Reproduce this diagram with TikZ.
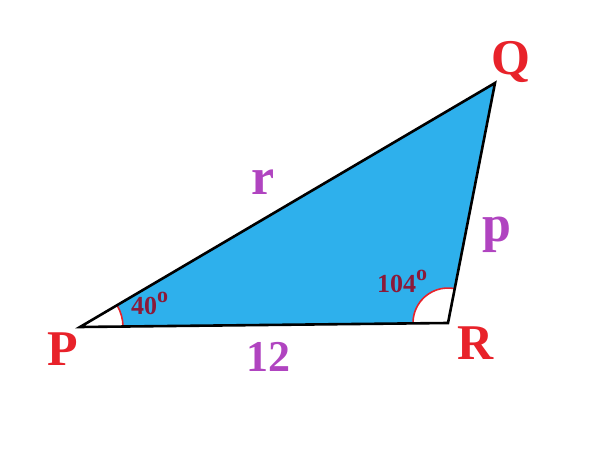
\documentclass[tikz,border=0pt]{standalone}
\usepackage{fontspec}
\setmainfont{Liberation Serif}
\definecolor{skyfill}{HTML}{2EB0EC}
\definecolor{vertred}{HTML}{E8222A}
\definecolor{sidepurple}{HTML}{B044C0}
\definecolor{anglemaroon}{HTML}{8B1A3A}
\newcommand{\dego}{{\fontsize{22}{22}\selectfont\raisebox{12pt}{o}}}

\begin{document}
\begin{tikzpicture}[x=1pt, y=1pt,
  every node/.style={inner sep=0pt, anchor=base west},
  vertex/.style={text=vertred, font=\fontsize{50}{50}\selectfont\bfseries},
  side/.style={text=sidepurple, font=\fontsize{52}{52}\selectfont\bfseries},
  anglelbl/.style={text=anglemaroon, font=\fontsize{26}{26}\selectfont\bfseries}]
  \useasboundingbox (0, 0) rectangle (600, 450);
  \coordinate (p) at (80, 123);
  \coordinate (r) at (448, 127);
  \coordinate (q) at (495, 367);
  \fill [skyfill] (p) -- (r) -- (q) -- cycle;
  \fill [white] (p) -- ++(0.6:43) arc [start angle=0.6, end angle=30.5, radius=43] -- cycle;
  \fill [white] (r) -- ++(78.9:35) arc [start angle=78.9, end angle=180.6, radius=35] -- cycle;
  \draw [vertred, line width=1.6pt] (p) ++(0.6:43) arc [start angle=0.6, end angle=30.5, radius=43];
  \draw [vertred, line width=1.6pt] (r) ++(78.9:35) arc [start angle=78.9, end angle=180.6, radius=35];
  \draw [line width=2.6pt, line join=miter] (p) -- (r) -- (q) -- cycle;
  \node [vertex] (lp) at (47, 84) {P};
  \node [vertex] (lq) at (491, 375) {Q};
  \node [vertex] (lr) at (457, 90) {R};
  \node [side] (lsr) at (251, 255) {r};
  \node [side] (lsp) at (482, 208) {p};
  \node [side, font=\fontsize{44}{44}\selectfont\bfseries] (lspr) at (246, 78) {12};
  \node [anglelbl] (ap) at (131, 135) {40\dego};
  \node [anglelbl] (ar) at (377, 157) {104\dego};
\end{tikzpicture}
\end{document}
